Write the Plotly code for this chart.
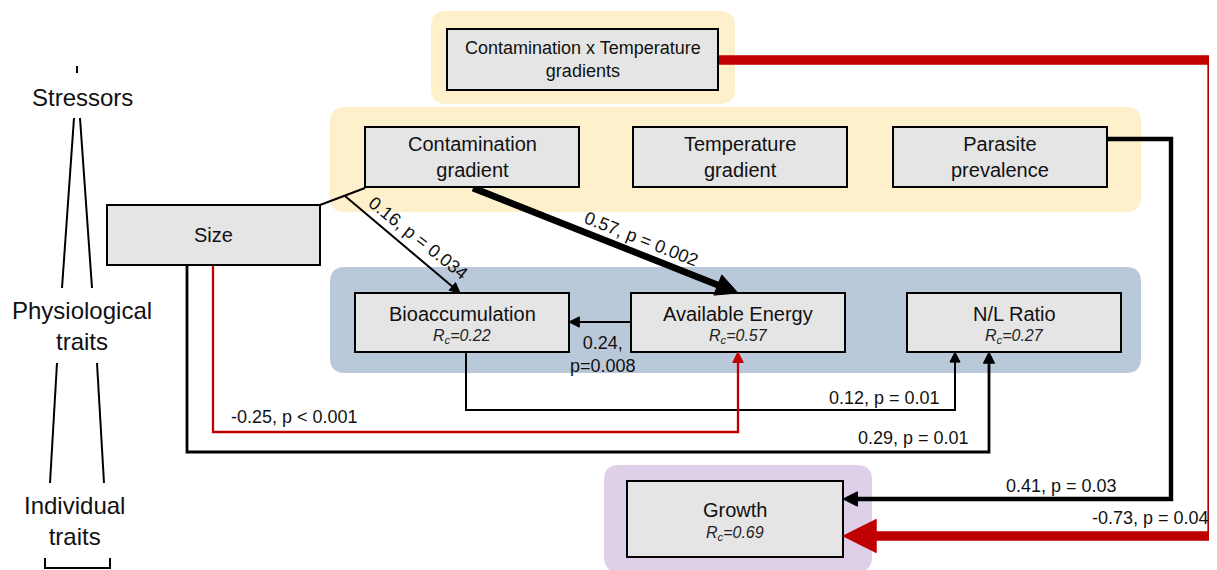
import math
import plotly.graph_objects as go

# ---------------- data ----------------
node_ids = ["CxT", "CG", "TG", "PP", "SZ", "BA", "AE", "NL", "GR"]
node_names = ["Contamination x Temperature<br>gradients", "Contamination<br>gradient",
              "Temperature<br>gradient", "Parasite<br>prevalence", "Size",
              "Bioaccumulation", "Available Energy", "N/L Ratio", "Growth"]
node_rc = [None, None, None, None, None, 0.22, 0.57, 0.27, 0.69]

edge_from = ["CG", "CG", "AE", "BA", "SZ", "SZ", "PP", "CxT"]
edge_to = ["AE", "BA", "BA", "NL", "AE", "NL", "GR", "GR"]
edge_est = [0.57, 0.16, 0.24, 0.12, -0.25, 0.29, 0.41, -0.73]
edge_p = ["0.002", "0.034", "0.008", "0.01", "< 0.001", "0.01", "0.03", "0.04"]

strata = ["Stressors", "Physiological<br>traits", "Individual<br>traits"]

# ---------------- layout (page pixel positions, y downwards) ----------------
W, H = 1217, 570
OFF = 8  # page body margin around the plot div
box = {
    "CxT": (447, 29, 718, 90),
    "CG": (365, 127, 579, 187),
    "TG": (633, 127, 847, 187),
    "PP": (893, 127, 1107, 187),
    "SZ": (107, 205, 320, 265),
    "BA": (355, 293, 569, 352),
    "AE": (631, 293, 845, 352),
    "NL": (907, 293, 1121, 352),
    "GR": (627, 481, 843, 557),
}
panels = [
    ((431, 11, 735, 104), "#FDF0CB"),
    ((330, 107, 1141, 212), "#FDF0CB"),
    ((330, 267, 1141, 373), "#B9C9D9"),
    ((604, 465, 872, 572), "#DDD0E8"),
]
routes = [
    [(473, 188), (738, 293)],
    [(345, 196), (460, 293)],
    [(631, 322), (569, 322)],
    [(466, 352), (466, 410), (955, 410), (955, 352)],
    [(213, 265), (213, 432), (738, 432), (738, 352)],
    [(187, 265), (187, 452), (989, 452), (989, 352)],
    [(1107, 139), (1171, 139), (1171, 499), (843, 499)],
    [(718, 60), (1212, 60), (1212, 536), (843, 536)],
]
label_pos = [
    (641, 239, 21.5), (418, 238, 38.5), (603, 354, 0), (884, 398, 0),
    (294, 417, 0), (913, 438, 0), (1061, 486, 0), (1150, 518, 0),
]
cov_line = [(320, 205), (365, 188)]
stratum_pos = [(82, 97), (82, 326), (74, 521)]
guide_lines = [
    [(77, 66), (77, 73)],
    [(74, 118), (62, 288)], [(80, 118), (92, 288)],
    [(57, 363), (50, 483)], [(97, 363), (104, 483)],
    [(45, 558), (45, 568), (110, 568), (110, 558)],
]

FONT = "Liberation Sans, Arial, sans-serif"
shapes, annots = [], []


def rounded(x0, y0, x1, y1, r=15):
    return (f"M {x0+r},{y0} L {x1-r},{y0} Q {x1},{y0} {x1},{y0+r} "
            f"L {x1},{y1-r} Q {x1},{y1} {x1-r},{y1} L {x0+r},{y1} "
            f"Q {x0},{y1} {x0},{y1-r} L {x0},{y0+r} Q {x0},{y0} {x0+r},{y0} Z")


def polyline(pts):
    return "M " + " L ".join(f"{x},{y}" for x, y in pts)


for (x0, y0, x1, y1), col in panels:
    shapes.append(dict(type="path", path=rounded(x0, y0, x1, y1), fillcolor=col,
                       line=dict(width=0), layer="below"))

# edges
heads = []
for i, est in enumerate(edge_est):
    pts = routes[i]
    w = max(2.0, 14 * abs(est) ** 1.3)
    col = "#C00000" if est < 0 else "#000000"
    (xa, ya), (xb, yb) = pts[-2], pts[-1]
    d = math.hypot(xb - xa, yb - ya)
    ux, uy = (xb - xa) / d, (yb - ya) / d
    L = 9 + 0.28 * w * w
    hw = 4.5 + 0.14 * w * w
    line_pts = pts[:-1] + [(xb - ux * L * 0.8, yb - uy * L * 0.8)]
    shapes.append(dict(type="path", path=polyline(line_pts),
                       line=dict(color=col, width=w)))
    bx, by = xb - ux * L, yb - uy * L
    px, py = -uy, ux
    tri = (f"M {xb},{yb} L {bx+px*hw},{by+py*hw} L {bx-px*hw},{by-py*hw} Z")
    heads.append(dict(type="path", path=tri, fillcolor=col, line=dict(color=col, width=1)))
    p = edge_p[i]
    if i == 2:
        txt = f"{est:.2f},<br>p={p}"
    else:
        txt = f"{est:.2f}, p {p if p.startswith('<') else '= ' + p}"
    lx, ly, ang = label_pos[i]
    annots.append(dict(x=lx, y=ly, text=txt, showarrow=False, textangle=ang,
                       font=dict(family=FONT, size=18, color="#111111")))

shapes.append(dict(type="path", path=polyline(cov_line), line=dict(color="black", width=2)))

# boxes
for nid, name, rc in zip(node_ids, node_names, node_rc):
    x0, y0, x1, y1 = box[nid]
    shapes.append(dict(type="rect", x0=x0, y0=y0, x1=x1, y1=y1, fillcolor="#E5E5E5",
                       line=dict(color="black", width=2)))
    cx, cy = (x0 + x1) / 2, (y0 + y1) / 2
    size = 18 if nid == "CxT" else 20
    if rc is None:
        annots.append(dict(x=cx, y=cy, text=name, showarrow=False,
                           font=dict(family=FONT, size=size, color="#111111")))
    else:
        annots.append(dict(x=cx, y=cy - 9, text=name, showarrow=False,
                           font=dict(family=FONT, size=size, color="#111111")))
        annots.append(dict(x=cx, y=cy + 14, text=f"<i>R<sub>c</sub>={rc:.2f}</i>",
                           showarrow=False, font=dict(family=FONT, size=16, color="#222222")))

shapes.extend(heads)

for pts in guide_lines:
    shapes.append(dict(type="path", path=polyline(pts), line=dict(color="black", width=2)))

for (sx, sy), s in zip(stratum_pos, strata):
    annots.append(dict(x=sx, y=sy, text=s, showarrow=False,
                       font=dict(family=FONT, size=24, color="#111111")))

fig = go.Figure(go.Scatter(x=[OFF], y=[OFF], mode="markers", marker=dict(opacity=0),
                           hoverinfo="skip", showlegend=False))
fig.update_layout(
    width=W - OFF, height=H - OFF, margin=dict(l=0, r=0, t=0, b=0),
    paper_bgcolor="white", plot_bgcolor="white",
    xaxis=dict(range=[OFF, W], visible=False, fixedrange=True),
    yaxis=dict(range=[H, OFF], visible=False, fixedrange=True),
    shapes=shapes, annotations=annots, showlegend=False,
)
fig.write_html("out.html")
